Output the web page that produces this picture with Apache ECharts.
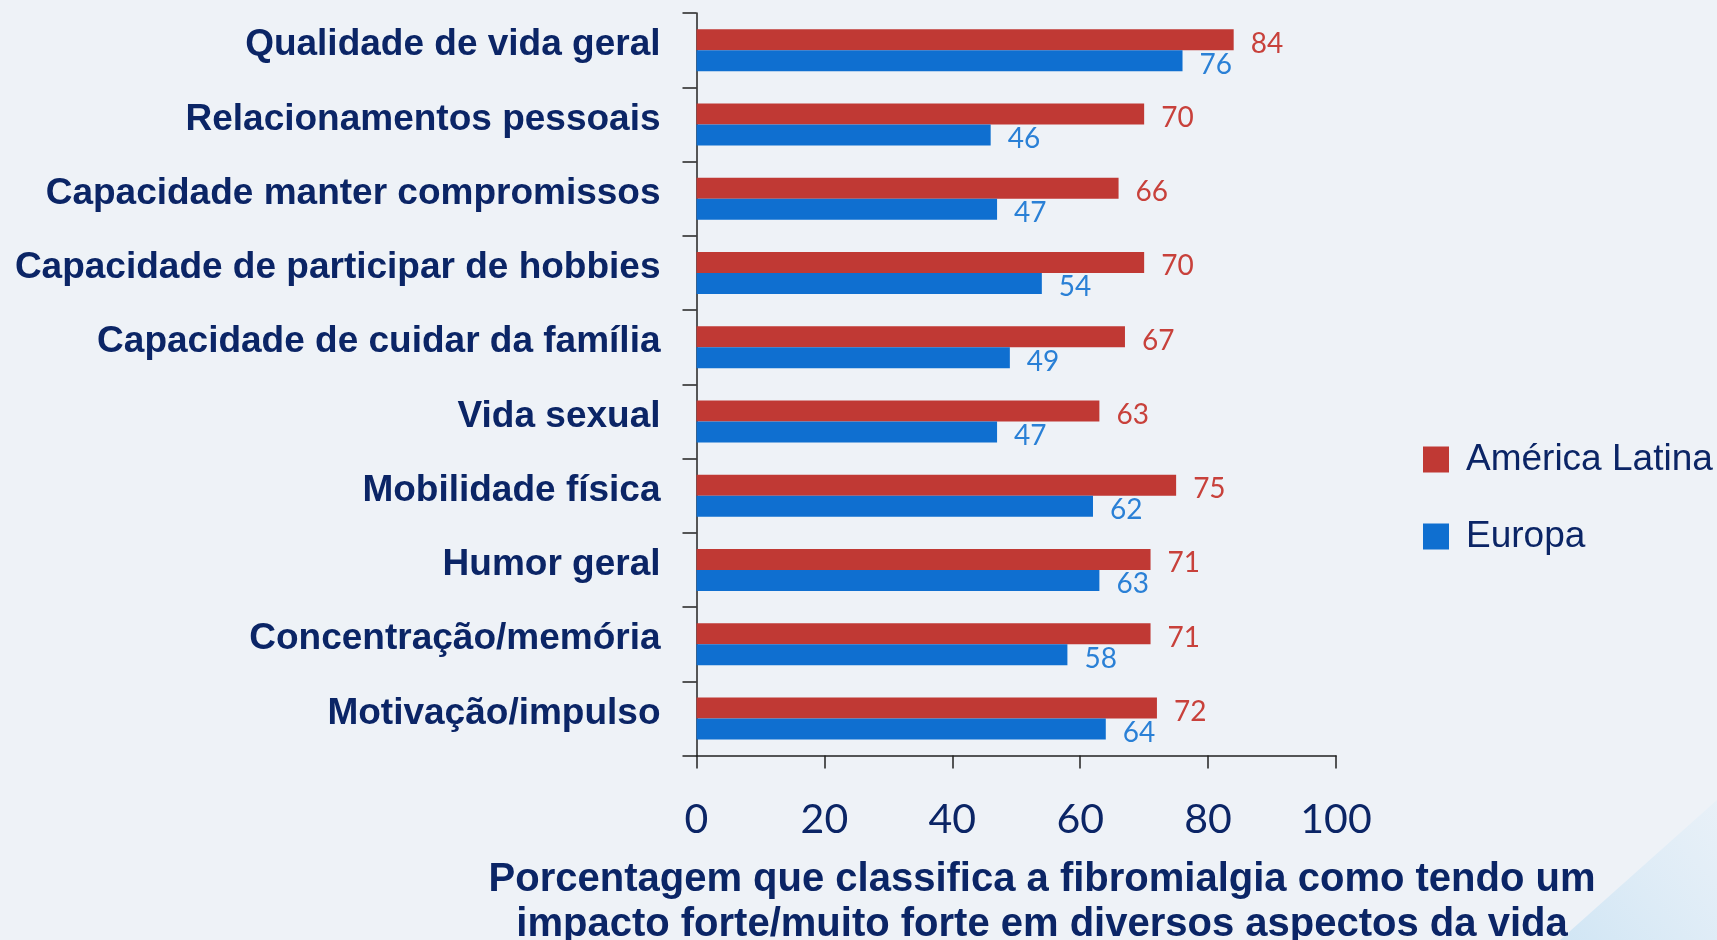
<!DOCTYPE html>
<html>
<head>
<meta charset="utf-8">
<script src="https://cdn.jsdelivr.net/npm/echarts@6/dist/echarts.min.js"></script>
<style>
html,body{margin:0;padding:0;background:#eef2f7;}
#chart{width:1717px;height:940px;}
</style>
</head>
<body>
<div id="chart"></div>
<script>
const categories = [
  'Qualidade de vida geral',
  'Relacionamentos pessoais',
  'Capacidade manter compromissos',
  'Capacidade de participar de hobbies',
  'Capacidade de cuidar da família',
  'Vida sexual',
  'Mobilidade física',
  'Humor geral',
  'Concentração/memória',
  'Motivação/impulso'
];
const americaLatina = [84, 70, 66, 70, 67, 63, 75, 71, 71, 72];
const europa = [76, 46, 47, 54, 49, 47, 62, 63, 58, 64];
const xTicks = [0, 20, 40, 60, 80, 100];
const seriesNames = ['América Latina', 'Europa'];
const axisTitle = 'Porcentagem que classifica a fibromialgia como tendo um\nimpacto forte/muito forte em diversos aspectos da vida';

const navy = '#0b2566';
const red = '#c03934';
const blue = '#0f6fd0';

const chart = echarts.init(document.getElementById('chart'));
chart.setOption({
  backgroundColor: '#eef2f7',
  animation: false,
  graphic: [{
    type: 'polygon',
    silent: true,
    z: -1,
    shape: { points: [[1560, 940], [1717, 800], [1717, 940]] },
    style: {
      fill: new echarts.graphic.LinearGradient(0, 1, 1, 0, [
        { offset: 0, color: 'rgba(205,228,244,0.9)' },
        { offset: 1, color: 'rgba(228,239,248,0.6)' }
      ])
    }
  }],
  title: {
    text: axisTitle,
    left: 1037,
    top: 852,
    textAlign: 'center',
    textStyle: {
      fontFamily: 'Liberation Sans, Arial, sans-serif',
      fontWeight: 'bold',
      fontSize: 40,
      lineHeight: 45,
      color: navy
    }
  },
  legend: {
    orient: 'vertical',
    left: 1418,
    top: 436,
    itemWidth: 26,
    itemHeight: 26,
    itemGap: 40,
    icon: 'rect',
    data: seriesNames,
    textStyle: {
      fontFamily: 'Liberation Sans, Arial, sans-serif',
      fontSize: 37,
      color: navy,
      padding: [0, 0, 0, 12]
    }
  },
  grid: {
    left: 696.5,
    right: 381,
    top: 13,
    bottom: 184.5,
    containLabel: false
  },
  xAxis: {
    type: 'value',
    min: 0,
    max: 100,
    interval: 20,
    splitLine: { show: false },
    axisLine: { show: true, lineStyle: { color: '#222', width: 1.5 } },
    axisTick: { show: true, length: 13, lineStyle: { color: '#222', width: 1.5 } },
    axisLabel: {
      margin: 44,
      fontFamily: 'Lato, sans-serif',
      fontSize: 41,
      color: navy,
      formatter: v => xTicks.includes(v) ? String(v) : ''
    }
  },
  yAxis: {
    type: 'category',
    inverse: true,
    data: categories,
    axisLine: { show: true, lineStyle: { color: '#222', width: 1.5 } },
    axisTick: { show: true, length: 14, lineStyle: { color: '#222', width: 1.5 } },
    axisLabel: {
      margin: 36,
      formatter: v => '{c|' + v + '}',
      rich: {
        c: {
          fontFamily: 'Liberation Sans, Arial, sans-serif',
          fontWeight: 'bold',
          fontSize: 37,
          color: navy,
          padding: [0, 0, 10, 0]
        }
      }
    }
  },
  series: [
    {
      name: seriesNames[0],
      type: 'bar',
      data: americaLatina,
      barWidth: 21,
      barGap: '0%',
      itemStyle: { color: red },
      label: {
        show: true,
        position: 'right',
        distance: 17,
        offset: [0, 4],
        fontFamily: 'Lato, sans-serif',
        fontSize: 28,
        color: '#c8413b'
      }
    },
    {
      name: seriesNames[1],
      type: 'bar',
      data: europa,
      barWidth: 21,
      barGap: '0%',
      itemStyle: { color: blue },
      label: {
        show: true,
        position: 'right',
        distance: 17,
        offset: [0, 4],
        fontFamily: 'Lato, sans-serif',
        fontSize: 28,
        color: '#2a80d6'
      }
    }
  ]
});
</script>
</body>
</html>
